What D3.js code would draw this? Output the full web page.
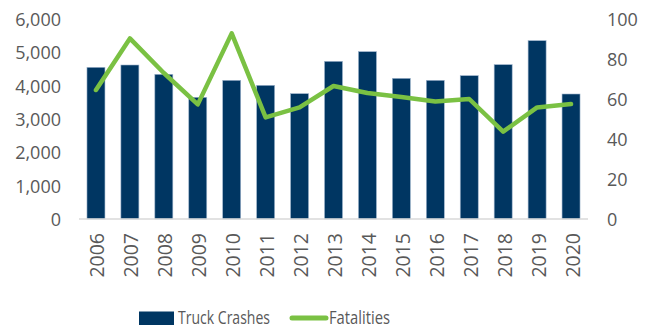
<!DOCTYPE html>
<html>
<head>
<meta charset="utf-8">
<script src="https://cdn.jsdelivr.net/npm/d3@7/dist/d3.min.js"></script>
<style>
  html, body { margin: 0; padding: 0; background: #fff; }
  svg { display: block; }
  text { font-family: "Open Sans", "Liberation Sans", sans-serif; fill: #595959; }
</style>
</head>
<body>
<svg id="chart" width="651" height="329"></svg>
<script>
// Annual truck crashes (left axis) and fatalities (right axis)
const years = ["2006","2007","2008","2009","2010","2011","2012","2013","2014","2015","2016","2017","2018","2019","2020"];
const truckCrashes = [4550, 4620, 4340, 3650, 4160, 4010, 3760, 4730, 5020, 4220, 4160, 4300, 4630, 5350, 3750];
const fatalities = [64.5, 90.3, 73, 57.3, 92.8, 50.8, 55.8, 66.5, 63, 61, 58.7, 60, 43.7, 55.8, 57.5];
const leftTicks = [0, 1000, 2000, 3000, 4000, 5000, 6000];
const rightTicks = [0, 20, 40, 60, 80, 100];
const seriesNames = ["Truck Crashes", "Fatalities"];

const navy = "#003662";
const green = "#7ac143";

const svg = d3.select("#chart");
const plot = { left: 79, right: 588, top: 19, bottom: 219 };

const x = d3.scaleBand()
  .domain(years)
  .range([plot.left, plot.right])
  .paddingInner(0.47)
  .paddingOuter(0.235);

const yLeft = d3.scaleLinear().domain([0, 6000]).range([plot.bottom, plot.top]);
const yRight = d3.scaleLinear().domain([0, 100]).range([plot.bottom, plot.top]);

// Bars
svg.append("g")
  .selectAll("rect")
  .data(years)
  .join("rect")
  .attr("x", d => x(d))
  .attr("width", x.bandwidth())
  .attr("y", (d, i) => yLeft(truckCrashes[i]))
  .attr("height", (d, i) => yLeft(0) - yLeft(truckCrashes[i]))
  .attr("fill", navy)
  .attr("stroke", "#9db4cc")
  .attr("stroke-width", 0.6);

// Baseline
svg.append("line")
  .attr("x1", plot.left).attr("x2", plot.right)
  .attr("y1", plot.bottom).attr("y2", plot.bottom)
  .attr("stroke", "#d9d9d9").attr("stroke-width", 1.5);

// Left axis labels
const fmt = d3.format(",");
svg.append("g")
  .selectAll("text")
  .data(leftTicks)
  .join("text")
  .attr("x", 61)
  .attr("y", d => yLeft(d))
  .attr("text-anchor", "end")
  .attr("dominant-baseline", "central")
  .attr("font-size", 18)
  .text(d => fmt(d));

// Right axis labels
svg.append("g")
  .selectAll("text")
  .data(rightTicks)
  .join("text")
  .attr("x", 607)
  .attr("y", d => yRight(d))
  .attr("text-anchor", "start")
  .attr("dominant-baseline", "central")
  .attr("font-size", 18)
  .text(d => d);

// Year labels, rotated
svg.append("g")
  .selectAll("text")
  .data(years)
  .join("text")
  .attr("transform", d => `translate(${x(d) + x.bandwidth() / 2 + 1},233) rotate(-90)`)
  .attr("text-anchor", "end")
  .attr("dominant-baseline", "central")
  .attr("font-size", 19.5)
  .text(d => d);

// Fatalities line
const line = d3.line()
  .x((d, i) => x(years[i]) + x.bandwidth() / 2)
  .y(d => yRight(d));

svg.append("path")
  .datum(fatalities)
  .attr("d", line)
  .attr("fill", "none")
  .attr("stroke", green)
  .attr("stroke-width", 4.5)
  .attr("stroke-linejoin", "round")
  .attr("stroke-linecap", "round");

// Legend
const lg = svg.append("g");
lg.append("rect")
  .attr("x", 139).attr("y", 311.5)
  .attr("width", 35).attr("height", 13.5)
  .attr("fill", navy);
lg.append("text")
  .attr("x", 178).attr("y", 316.5)
  .attr("dominant-baseline", "central")
  .attr("font-size", 19)
  .attr("textLength", 92)
  .attr("lengthAdjust", "spacingAndGlyphs")
  .text(seriesNames[0]);
lg.append("line")
  .attr("x1", 292).attr("x2", 326)
  .attr("y1", 318).attr("y2", 318)
  .attr("stroke", green)
  .attr("stroke-width", 5)
  .attr("stroke-linecap", "round");
lg.append("text")
  .attr("x", 329).attr("y", 316.5)
  .attr("dominant-baseline", "central")
  .attr("font-size", 19)
  .attr("textLength", 61)
  .attr("lengthAdjust", "spacingAndGlyphs")
  .text(seriesNames[1]);
</script>
</body>
</html>
